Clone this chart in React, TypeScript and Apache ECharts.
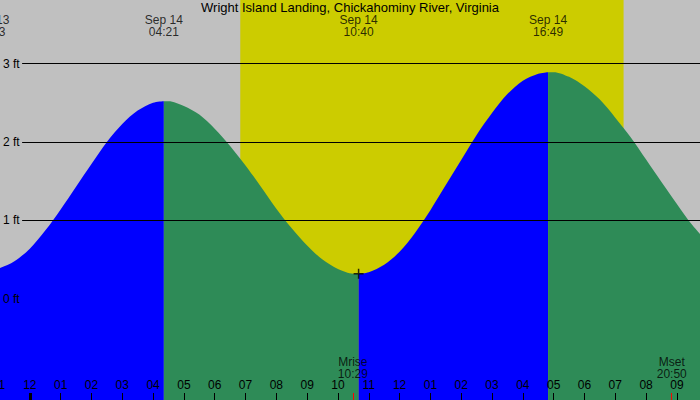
import React, { useEffect, useRef } from 'react';
import * as echarts from 'echarts';

// hours from Sep 14 00:00, heights in ft
const rise1Hours = [-1.28, -1.0, -0.5, 0, 0.5, 1, 1.5, 2, 2.5, 3, 3.5, 4, 4.35];
const rise1Feet = [0.38, 0.39, 0.48, 0.64, 0.87, 1.14, 1.43, 1.72, 2.0, 2.23, 2.4, 2.5, 2.52];
const fall1Hours = [4.35, 4.5, 5, 5.5, 6, 6.5, 7, 7.5, 8, 8.5, 9, 9.5, 10, 10.5, 10.67];
const fall1Feet = [2.52, 2.52, 2.46, 2.35, 2.17, 1.95, 1.7, 1.43, 1.15, 0.9, 0.68, 0.5, 0.38, 0.32, 0.32];
const rise2Hours = [10.67, 11, 11.5, 12, 12.5, 13, 13.5, 14, 14.5, 15, 15.5, 16, 16.5, 16.82];
const rise2Feet = [0.32, 0.34, 0.435, 0.6, 0.84, 1.13, 1.45, 1.77, 2.09, 2.37, 2.61, 2.78, 2.87, 2.89];
const fall2Hours = [16.82, 17, 17.5, 18, 18.5, 19, 19.5, 20, 20.5, 21, 21.5, 22];
const fall2Feet = [2.89, 2.89, 2.83, 2.71, 2.54, 2.31, 2.06, 1.775, 1.49, 1.21, 0.94, 0.72];

const extremeHours = [-1.28, 4.35, 10.67, 16.82];
const extremeLabels = ['Sep 13\n22:43', 'Sep 14\n04:21', 'Sep 14\n10:40', 'Sep 14\n16:49'];

const sunrise = 6.83;
const sunset = 19.27;
const moonHours = [10.483, 20.833];
const moonLabels = ['Mrise\n10:29', 'Mset\n20:50'];

const markerPoint = [10.67, 0.32];
const feetTicks = [0, 1, 2, 3];
const gridFeet = [1, 2, 3];

const TITLE = 'Wright Island Landing, Chickahominy River, Virginia';
const X_MIN = -1;
const X_MAX = 21.75;
const Y_MIN = -1.29;
const Y_MAX = 3.81;
const FONT = 'Liberation Sans';

const zip = (xs: number[], ys: number[]) => xs.map((x, i) => [x, ys[i]]);

const hourLabel = (v: number) => {
  const h = ((Math.round(v) % 24) + 24) % 24;
  const h12 = h % 12 === 0 ? 12 : h % 12;
  return String(h12).padStart(2, '0');
};

const fill = (name: string, data: number[][], color: string) => ({
  name,
  type: 'line',
  z: 3,
  data,
  symbol: 'none',
  smooth: 0.3,
  lineStyle: { width: 0 },
  areaStyle: { color, opacity: 1, origin: 'start' },
  silent: true
});

const tickAxis = (values: number[], color: string, width: number) => ({
  type: 'value',
  min: X_MIN,
  max: X_MAX,
  position: 'bottom',
  z: 10,
  axisLine: { show: false, onZero: false },
  splitLine: { show: false },
  axisLabel: { show: false },
  axisTick: { inside: true, length: 7, customValues: values, lineStyle: { color, width } }
});

const textSeries = (name: string, data: number[][], labels: string[]) => ({
  name,
  type: 'scatter',
  z: 4,
  clip: false,
  symbolSize: 0,
  data,
  label: {
    show: true,
    position: 'inside',
    fontSize: 12,
    lineHeight: 12,
    fontFamily: FONT,
    color: '#000',
    align: 'center',
    formatter: (p: any) => labels[p.dataIndex]
  },
  silent: true
});

const TideChart: React.FC = () => {
  const chartRef = useRef<HTMLDivElement>(null);

  useEffect(() => {
    if (!chartRef.current) return;
    const chart = echarts.init(chartRef.current, null, { renderer: 'svg' });

    const option: any = {
      animation: false,
      backgroundColor: '#c0c0c0',
      textStyle: { fontFamily: FONT },
      title: {
        text: TITLE,
        left: 'center',
        top: 1,
        padding: 0,
        textStyle: { fontFamily: FONT, fontSize: 13, fontWeight: 'normal', color: '#000' }
      },
      grid: { left: -1, right: 0, top: 0, bottom: 0, outerBoundsMode: 'none', containLabel: false },
      xAxis: [
        {
          type: 'value',
          min: X_MIN,
          max: X_MAX,
          interval: 1,
          position: 'bottom',
          z: 10,
          axisLine: { show: false, onZero: false },
          splitLine: { show: false },
          axisTick: { inside: true, length: 7, lineStyle: { color: '#000', width: 1 } },
          axisLabel: {
            inside: true,
            margin: 9,
            fontSize: 12,
            fontFamily: FONT,
            color: '#000',
            showMaxLabel: false,
            formatter: hourLabel
          }
        },
        tickAxis([0], '#000', 3),
        tickAxis(moonHours, '#ff0000', 1)
      ],
      yAxis: {
        type: 'value',
        min: Y_MIN,
        max: Y_MAX,
        z: 10,
        axisLine: { show: false, onZero: false },
        axisTick: { show: false },
        splitLine: { show: false },
        axisLabel: {
          inside: true,
          margin: 4,
          fontSize: 12,
          fontFamily: FONT,
          color: '#000',
          customValues: feetTicks,
          formatter: '{value} ft'
        }
      },
      series: [
        {
          name: 'daylight',
          type: 'line',
          z: 1,
          data: [],
          markArea: {
            silent: true,
            itemStyle: { color: '#cccc00', opacity: 1 },
            data: [[{ xAxis: sunrise }, { xAxis: sunset }]]
          }
        },
        {
          name: 'gridlines',
          type: 'line',
          z: 2,
          data: [],
          markLine: {
            silent: true,
            symbol: 'none',
            label: { show: false },
            lineStyle: { color: '#000', width: 1, type: 'solid' },
            data: gridFeet.map(v => [{ coord: [-0.25, v] }, { coord: [X_MAX, v] }])
          }
        },
        fill('rise1', zip(rise1Hours, rise1Feet), '#0000ff'),
        fill('fall1', zip(fall1Hours, fall1Feet), '#2e8b57'),
        fill('rise2', zip(rise2Hours, rise2Feet), '#0000ff'),
        fill('fall2', zip(fall2Hours, fall2Feet), '#2e8b57'),
        {
          name: 'marker',
          type: 'scatter',
          z: 4,
          data: [markerPoint],
          symbol: 'path://M0 5H10M5 0V10',
          symbolSize: 10,
          itemStyle: { color: 'none', borderColor: '#000', borderWidth: 1.5 },
          silent: true
        },
        textSeries('extremes', extremeHours.map(h => [h, 3.48]), extremeLabels),
        textSeries('moon', moonHours.map(h => [h, -0.885]), moonLabels)
      ]
    };

    chart.setOption(option);
    return () => chart.dispose();
  }, []);

  return (
    <div
      ref={chartRef}
      style={{ position: 'fixed', left: 0, top: 0, width: 700, height: 400 }}
    />
  );
};

export default function App() {
  return <TideChart />;
}
